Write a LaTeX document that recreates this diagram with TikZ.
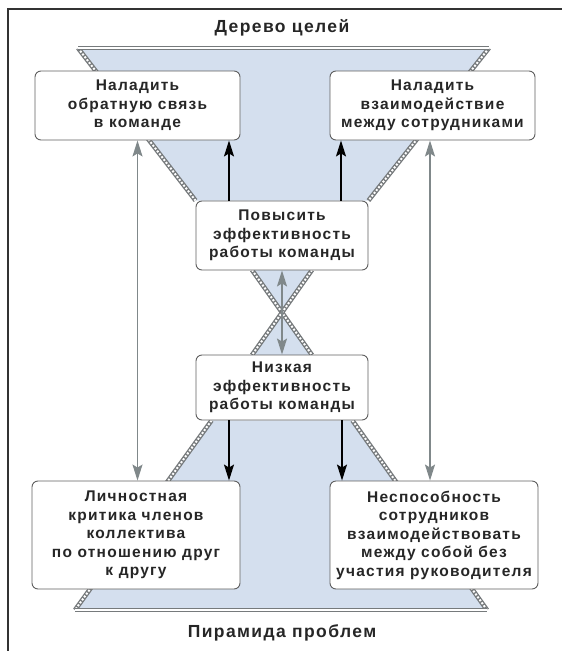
\documentclass[tikz,border=0pt]{standalone}
\usepackage{fontspec}
\setmainfont{Liberation Sans}[LetterSpace=8]
\usetikzlibrary{arrows.meta,backgrounds}

\definecolor{funnelblue}{RGB}{212,223,238}
\definecolor{ropegray}{RGB}{118,122,124}
\definecolor{boxgray}{RGB}{95,95,95}
\definecolor{linkgray}{RGB}{128,136,138}

\begin{document}
\begin{tikzpicture}[x=1pt, y=-1pt,
  font=\bfseries\fontsize{15.5}{18.5}\selectfont,
  goal/.style ={draw=boxgray, line width=0.9pt, rounded corners=6pt, fill=white,
                align=center, inner sep=0pt, text=black!85},
  rope/.style ={draw=ropegray, line width=4.6pt},
  ropein/.style={draw=white, line width=2pt, dash pattern=on 2pt off 1.6pt},
  rim/.style  ={draw=ropegray, line width=0.9pt, double=white, double distance=1.6pt},
  ar/.style   ={-{Stealth[length=16pt,width=10pt,inset=3pt]}, line width=1.4pt, draw=black},
  gar/.style  ={{Stealth[length=16pt,width=10pt,inset=3pt]}-{Stealth[length=16pt,width=10pt,inset=3pt]},
                line width=1.4pt, draw=linkgray},
  ttl/.style  ={font=\bfseries\fontsize{17.5}{20}\selectfont, text=black!85},
]
\useasboundingbox (0,0) rectangle (562,651);

% ---- frame ----
\draw[line width=1.2pt, draw=black!80] (8,651) -- (8,9) -- (562,9);

% ---- titles ----
\node[ttl] (tree) at (282,28)  {Дерево целей};
\node[ttl] (pyr)  at (282,633) {Пирамида проблем};

% ---- goals (top) ----
\node[goal, minimum width=205pt, minimum height=69pt] (b1) at (137.5,105.5)
  {Наладить\\обратную связь\\в команде};
\node[goal, minimum width=205pt, minimum height=69pt] (b2) at (432.5,105.5)
  {Наладить\\взаимодействие\\между сотрудниками};
\node[goal, minimum width=172pt, minimum height=69pt] (up) at (282,235.5)
  {Повысить\\эффективность\\работы команды};

% ---- problems (bottom) ----
\node[goal, minimum width=172pt, minimum height=65pt] (lo) at (282,387.5)
  {Низкая\\эффективность\\работы команды};
\node[goal, minimum width=208pt, minimum height=108pt] (b3) at (136,535)
  {Личностная\\критика членов\\коллектива\\по отношению друг\\к другу};
\node[goal, minimum width=208pt, minimum height=108pt] (b4) at (434,535)
  {Неспособность\\сотрудников\\взаимодействовать\\между собой без\\участия руководителя};

% ---- funnel corners ----
\coordinate (tl) at (78,48);
\coordinate (tr) at (489,48);
\coordinate (bl) at (75,610);
\coordinate (br) at (487,610);
\coordinate (xa) at (252,270);
\coordinate (xb) at (312,270);
\coordinate (xm) at (282,311);
\coordinate (xc) at (252,355);
\coordinate (xd) at (312,355);
\coordinate (ll) at ([xshift=16pt]lo.south west);
\coordinate (lr) at ([xshift=-16pt]lo.south east);

% ---- edges ----
\draw[ar] ([xshift=-53pt]up.north) -- ([xshift=-53pt]up.north |- b1.south);
\draw[ar] ([xshift=59pt]up.north)  -- ([xshift=59pt]up.north |- b2.south);
\draw[ar] ([xshift=-53pt]lo.south) -- ([xshift=-53pt]lo.south |- b3.north);
\draw[ar] ([xshift=60pt]lo.south)  -- ([xshift=60pt]lo.south |- b4.north);
\draw[gar] (b1.south) -- (b1.south |- b3.north);
\draw[gar] ([xshift=-2.5pt]b2.south) -- ([xshift=-2.5pt]b2.south |- b4.north);
\draw[gar] (up.south) -- (lo.north);

% ---- funnels ----
\begin{scope}[on background layer]
  \fill[funnelblue] (tl) -- (tr) -- (up.north east) -- (up.north west) -- cycle;
  \fill[funnelblue] (xa) -- (xb) -- (xm) -- cycle;
  \fill[funnelblue] (xc) -- (xd) -- (xm) -- cycle;
  \fill[funnelblue] (ll) -- (lr) -- (br) -- (bl) -- cycle;
  \foreach \p/\q in {tl/up.north west, tr/up.north east, xa/xd, xb/xc, ll/bl, lr/br}{
    \draw[rope] (\p) -- (\q);
    \draw[ropein] (\p) -- (\q);
  }
  \draw[rim] (tl) -- (tr);
  \draw[rim] (bl) -- (br);
\end{scope}
\end{tikzpicture}
\end{document}
